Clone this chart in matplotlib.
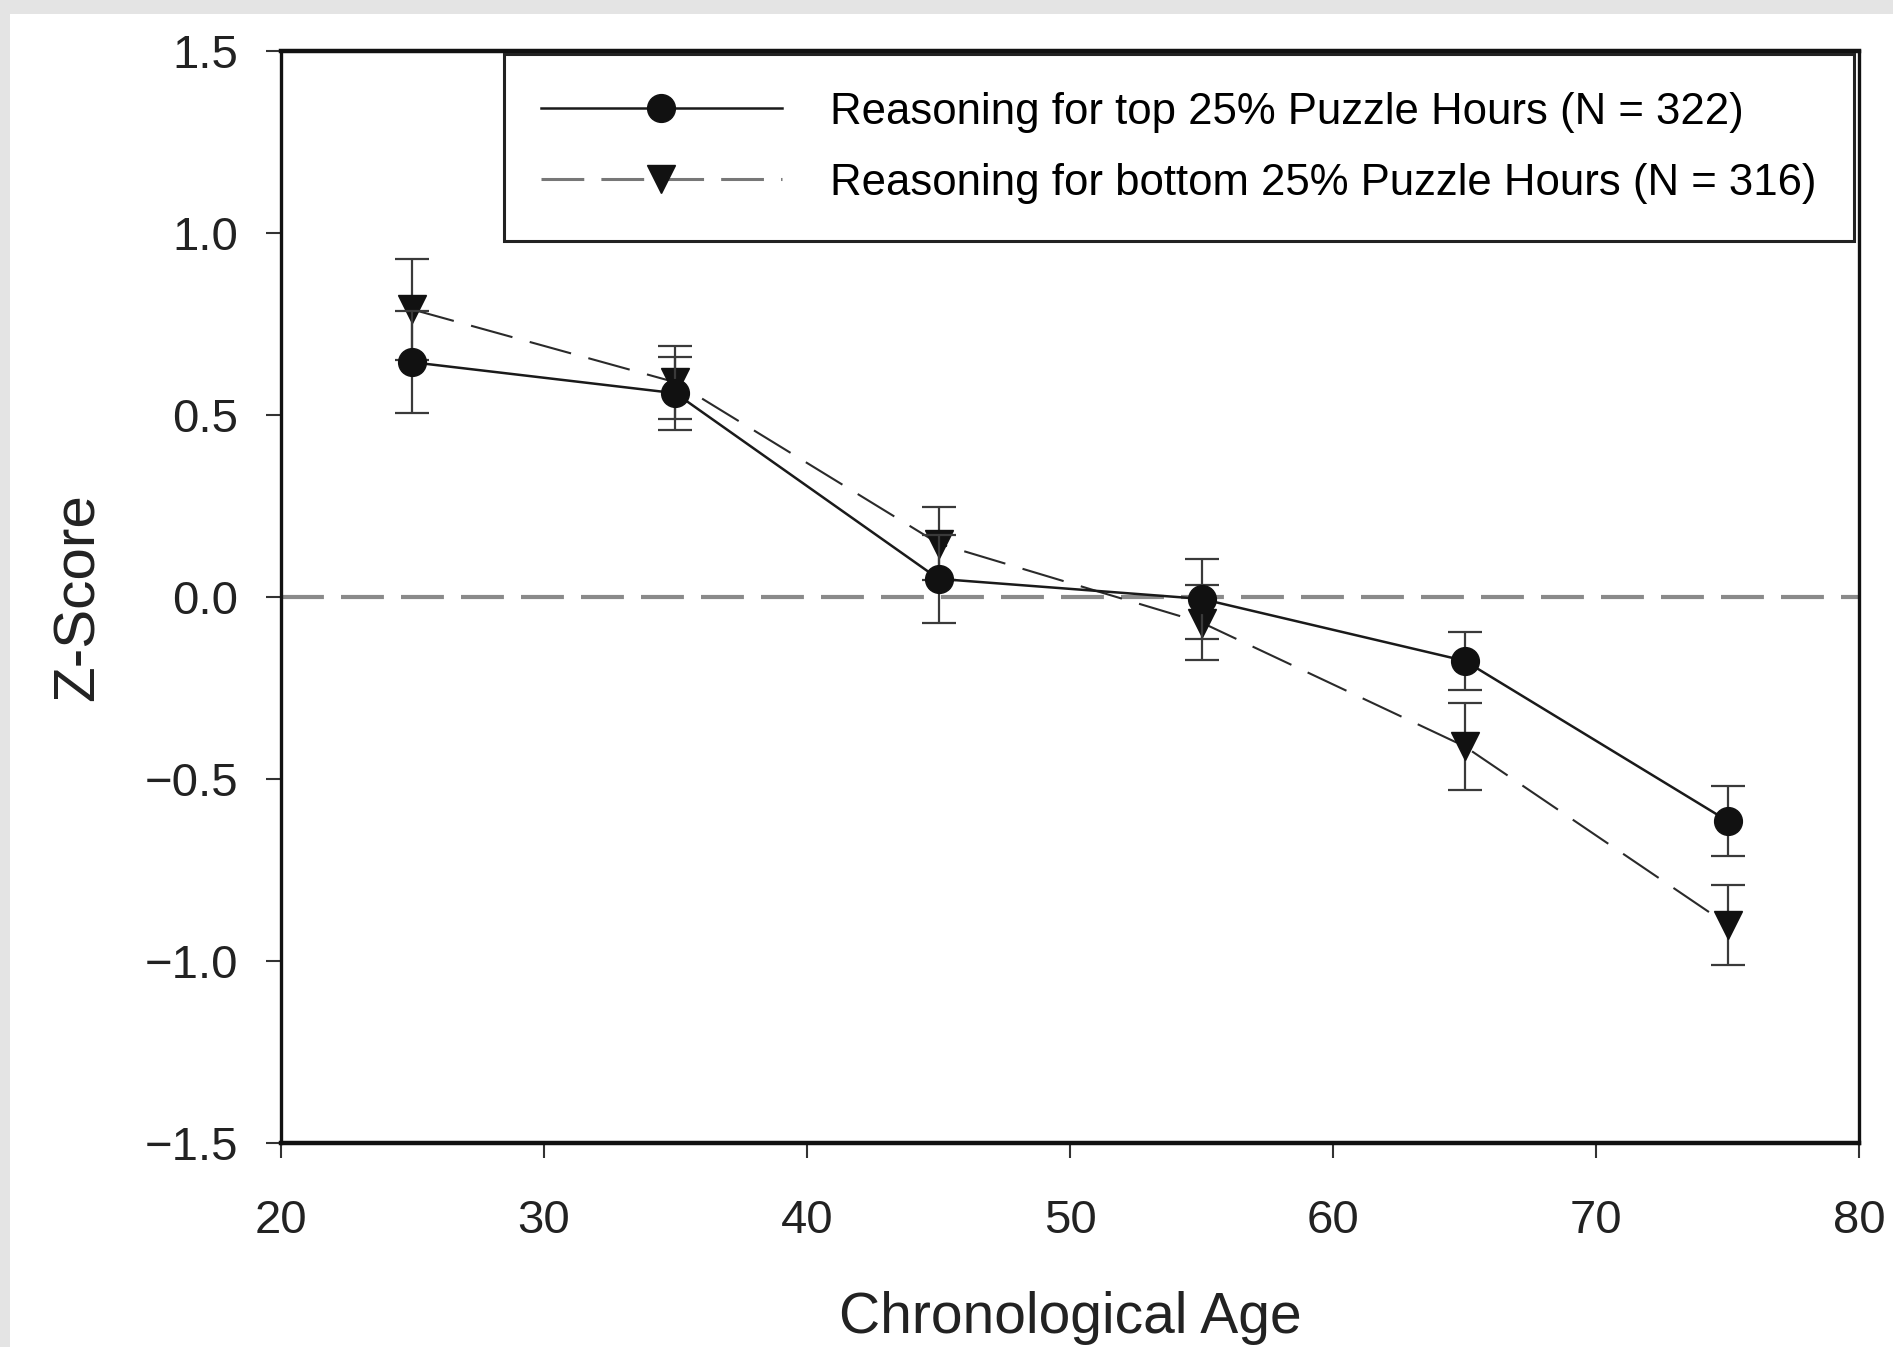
import matplotlib
matplotlib.use('Agg')
import matplotlib.pyplot as plt
from matplotlib.patches import Rectangle
from matplotlib.lines import Line2D
from matplotlib.ticker import MultipleLocator

plt.rcParams['font.family'] = ['Liberation Sans', 'DejaVu Sans']

# values
ages = [25, 35, 45, 55, 65, 75]
top_mean = [0.645, 0.56, 0.05, -0.005, -0.175, -0.615]
top_err = [0.14, 0.10, 0.12, 0.11, 0.08, 0.095]
bot_mean = [0.79, 0.59, 0.147, -0.07, -0.41, -0.90]
bot_err = [0.14, 0.10, 0.10, 0.104, 0.12, 0.11]
top_label = 'Reasoning for top 25% Puzzle Hours (N = 322)'
bot_label = 'Reasoning for bottom 25% Puzzle Hours (N = 316)'

fig = plt.figure(figsize=(18.93, 13.47), dpi=100)
fig.patch.set_facecolor('#e4e4e4')
fig.patches.append(Rectangle((10 / 1893, 0), 1, 1 - 14 / 1347,
                             transform=fig.transFigure, facecolor='white',
                             edgecolor='none', zorder=-10))

ax = fig.add_axes([0.1484, 0.1514, 0.8337, 0.8107])
ax.set_facecolor('none')

ax.axhline(0, color='#8a8a8a', lw=3, dashes=(10.3, 4.1), zorder=1)

ax.errorbar(ages, bot_mean, yerr=bot_err, color='#2a2a2a', lw=1.5,
            dashes=(20.6, 8.6), marker='v', ms=20, mfc='#111111',
            mec='#111111', ecolor='#3a3a3a', elinewidth=1.6, capsize=12,
            capthick=1.6, zorder=3)
ax.errorbar(ages, top_mean, yerr=top_err, color='#1a1a1a', lw=1.8,
            marker='o', ms=20, mfc='#111111', mec='#111111',
            ecolor='#3a3a3a', elinewidth=1.6, capsize=12, capthick=1.6,
            zorder=4)

ax.set_xlim(20, 80)
ax.set_ylim(-1.5, 1.5)
ax.xaxis.set_major_locator(MultipleLocator(10))
ax.yaxis.set_major_locator(MultipleLocator(0.5))
ax.tick_params(direction='out', length=11, width=1.5, color='#333333',
               labelsize=34, labelcolor='#222222')
ax.tick_params(axis='x', pad=29)
ax.tick_params(axis='y', pad=20)

for side in ['top', 'bottom']:
    ax.spines[side].set_linewidth(3.2)
for side in ['left', 'right']:
    ax.spines[side].set_linewidth(2.4)
for s in ax.spines.values():
    s.set_color('#111111')

ax.set_xlabel('Chronological Age', fontsize=41, color='#222222', labelpad=35)
ax.set_ylabel('Z-Score', fontsize=42, color='#222222', labelpad=28)

handles = [
    Line2D([], [], color='#1a1a1a', lw=1.8, marker='o', ms=20,
           mfc='#111111', mec='#111111'),
    Line2D([], [], color='#777777', lw=2.2, dashes=(14, 5.6), marker='v',
           ms=20, mfc='#111111', mec='#111111'),
]
leg = ax.legend(handles, [top_label, bot_label], loc='upper right',
                bbox_to_anchor=(0.9965, 0.997), fontsize=31.5,
                handlelength=5.5, handletextpad=1.1, labelspacing=0.69,
                borderpad=0.85, borderaxespad=0, fancybox=False,
                framealpha=1, edgecolor='#222222')
leg.get_frame().set_linewidth(2.2)

fig.savefig('out.png', dpi=100, facecolor=fig.get_facecolor())
